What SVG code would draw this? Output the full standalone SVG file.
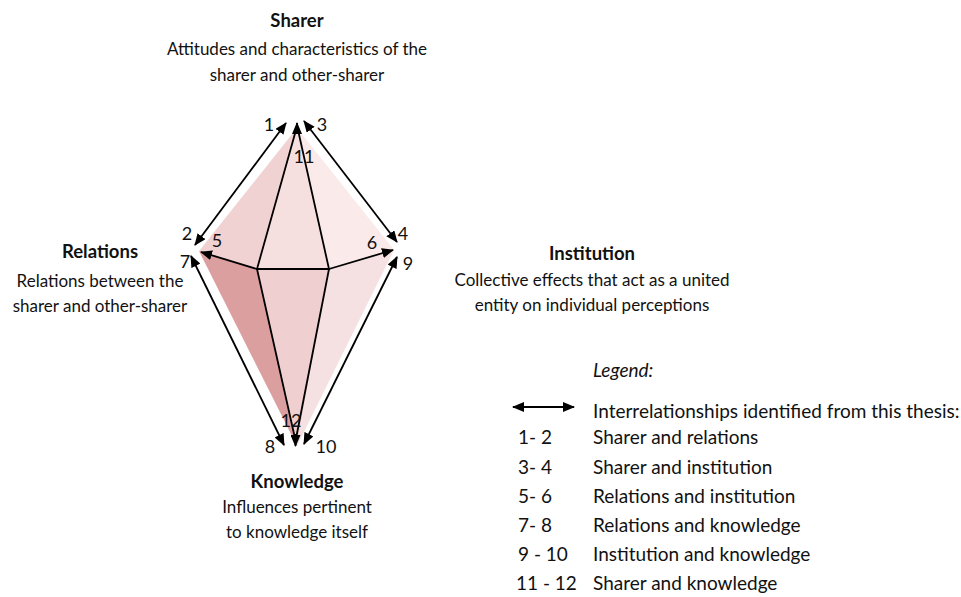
<svg xmlns="http://www.w3.org/2000/svg" width="961" height="597" viewBox="0 0 961 597">
<style>
text{font-family:Lato,"Open Sans","Liberation Sans",sans-serif;fill:#111}
.h{font-size:18.5px;font-weight:bold;text-anchor:middle}
.d{font-size:17px;text-anchor:middle}
.n{font-size:18px;text-anchor:middle}
.l{font-size:19px}
.c line,.c path{stroke:#000;stroke-width:1.8;fill:none}
</style>
<defs>
<marker id="ah" viewBox="0 0 12 10" markerWidth="12" markerHeight="10" refX="11" refY="5" orient="auto-start-reverse" markerUnits="userSpaceOnUse">
<path d="M0,0 L12,5 L0,10 z" fill="#000"/>
</marker>
</defs>
<rect width="961" height="597" fill="#fff"/>
<g id="faces">
<polygon points="297,128 199,251 257,269" fill="#f1d2d2"/>
<polygon points="297,128 257,269 329,269" fill="#f5dfdf"/>
<polygon points="297,128 329,269 394,250" fill="#faeaea"/>
<polygon points="199,251 257,269 297,446" fill="#dc9fa0"/>
<polygon points="257,269 329,269 297,446" fill="#efcfcf"/>
<polygon points="329,269 394,250 297,446" fill="#f5e1e1"/>
</g>
<g id="connectors" class="c">
<line x1="286" y1="123" x2="195" y2="245" marker-start="url(#ah)" marker-end="url(#ah)"/>
<line x1="304" y1="121" x2="397" y2="242" marker-start="url(#ah)" marker-end="url(#ah)"/>
<line x1="191" y1="256" x2="284" y2="445" marker-start="url(#ah)" marker-end="url(#ah)"/>
<line x1="397" y1="257" x2="304" y2="444" marker-start="url(#ah)" marker-end="url(#ah)"/>
<line x1="257" y1="269" x2="201" y2="252" marker-end="url(#ah)"/>
<line x1="329" y1="269" x2="393" y2="250" marker-end="url(#ah)"/>
<path d="M296,130 L257,269 L329,269 L298,130"/>
<path d="M257,269 L294.5,436 M329,269 L296.5,436"/>
<line x1="297" y1="134" x2="297" y2="123" marker-end="url(#ah)"/>
<line x1="295.5" y1="434" x2="295.5" y2="446" marker-end="url(#ah)"/>
<line x1="513" y1="407" x2="574" y2="407" marker-start="url(#ah)" marker-end="url(#ah)"/>
</g>
<g id="labels">
<text class="n" x="269" y="131">1</text>
<text class="n" x="322" y="131">3</text>
<text class="n" x="304" y="163">11</text>
<text class="n" x="187" y="240">2</text>
<text class="n" x="217" y="247">5</text>
<text class="n" x="185" y="268">7</text>
<text class="n" x="403" y="240">4</text>
<text class="n" x="372" y="249">6</text>
<text class="n" x="408" y="270">9</text>
<text class="n" x="291" y="427">12</text>
<text class="n" x="270" y="453">8</text>
<text class="n" x="326" y="453">10</text>
</g>
<g id="sharer">
<text class="h" x="297" y="27">Sharer</text>
<text class="d" x="297" y="55">Attitudes and characteristics of the</text>
<text class="d" x="297" y="81">sharer and other-sharer</text>
</g>
<g id="relations">
<text class="h" x="100" y="258">Relations</text>
<text class="d" x="100" y="287">Relations between the</text>
<text class="d" x="100" y="312">sharer and other-sharer</text>
</g>
<g id="institution">
<text class="h" x="592" y="260">Institution</text>
<text class="d" x="592" y="286">Collective effects that act as a united</text>
<text class="d" x="592" y="311">entity on individual perceptions</text>
</g>
<g id="knowledge">
<text class="h" x="297" y="488">Knowledge</text>
<text class="d" x="297" y="513">Influences pertinent</text>
<text class="d" x="297" y="538">to knowledge itself</text>
</g>
<g id="legend">
<text class="l" x="593" y="377" font-style="italic">Legend:</text>
<text class="l" x="593" y="418">Interrelationships identified from this thesis:</text>
<text class="l" x="518" y="444">1- 2</text>
<text class="l" x="593" y="444">Sharer and relations</text>
<text class="l" x="518" y="474">3- 4</text>
<text class="l" x="593" y="474">Sharer and institution</text>
<text class="l" x="518" y="503">5- 6</text>
<text class="l" x="593" y="503">Relations and institution</text>
<text class="l" x="518" y="532">7- 8</text>
<text class="l" x="593" y="532">Relations and knowledge</text>
<text class="l" x="518" y="561">9 - 10</text>
<text class="l" x="593" y="561">Institution and knowledge</text>
<text class="l" x="516" y="590">11 - 12</text>
<text class="l" x="593" y="590">Sharer and knowledge</text>
</g>
</svg>
